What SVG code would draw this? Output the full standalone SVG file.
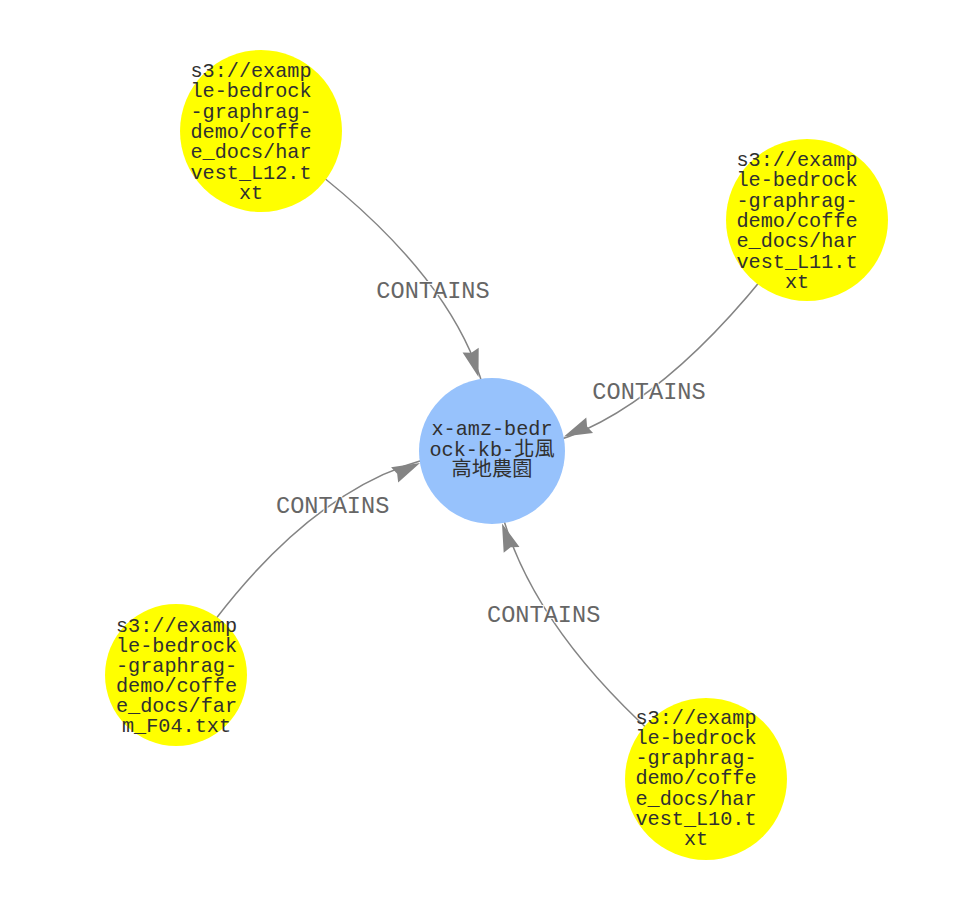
<svg xmlns="http://www.w3.org/2000/svg" xmlns:xlink="http://www.w3.org/1999/xlink" width="960" height="898" viewBox="0 0 960 898">
<style>
.edge{fill:none;stroke:#848484;stroke-width:1.5}
.ah{fill:#848484}
.elabel{font-family:"Liberation Mono","Courier New",monospace;font-size:23.6px;fill:#666;text-anchor:middle;stroke:#fff;stroke-width:2;paint-order:stroke}
.doc{fill:#ffff00}
.kb{fill:#97c2fc}
.ntext{font-family:"Liberation Mono","Noto Sans CJK TC","Noto Sans CJK JP",monospace;font-size:20.2px;fill:#303030;text-anchor:middle}
</style>
<defs>
<path id="ah" d="M0,0 L-28,8.4 L-25.2,0 L-28,-8.4 Z"/>
</defs>
<rect width="960" height="898" fill="#fff"/>
<g id="connectors">
<path class="edge" d="M261,131 Q493.5,291 492,451"/>
<path class="edge" d="M807,220 Q640.5,452.5 492,451"/>
<path class="edge" d="M176,675 Q324,449 492,451"/>
<path class="edge" d="M706,779 Q499,615 492,451"/>
<use href="#ah" class="ah" transform="translate(478.5,377) rotate(73.7)"/>
<use href="#ah" class="ah" transform="translate(564,436.5) rotate(156.4)"/>
<use href="#ah" class="ah" transform="translate(420,463) rotate(-25)"/>
<use href="#ah" class="ah" transform="translate(502,523.5) rotate(-110)"/>
<text class="elabel" x="433" y="297.5">CONTAINS</text>
<text class="elabel" x="649" y="399.3">CONTAINS</text>
<text class="elabel" x="332.7" y="512.5">CONTAINS</text>
<text class="elabel" x="543.7" y="621.5">CONTAINS</text>
</g>
<g id="node-kb">
<circle class="kb" cx="492" cy="451" r="73"/>
<text class="ntext"><tspan x="492" y="435">x-amz-bedr</tspan><tspan x="492" y="455.5">ock-kb-北風</tspan><tspan x="492" y="476">高地農園</tspan></text>
</g>
<g id="node-L12">
<circle class="doc" cx="261" cy="131" r="81"/>
<text class="ntext"><tspan x="251" y="77">s3://examp</tspan><tspan x="251" y="97.3">le-bedrock</tspan><tspan x="251" y="117.6">-graphrag-</tspan><tspan x="251" y="137.9">demo/coffe</tspan><tspan x="251" y="158.2">e_docs/har</tspan><tspan x="251" y="178.5">vest_L12.t</tspan><tspan x="251" y="198.8">xt</tspan></text>
</g>
<g id="node-L11">
<circle class="doc" cx="807" cy="220" r="81"/>
<text class="ntext"><tspan x="797" y="166">s3://examp</tspan><tspan x="797" y="186.3">le-bedrock</tspan><tspan x="797" y="206.6">-graphrag-</tspan><tspan x="797" y="226.9">demo/coffe</tspan><tspan x="797" y="247.2">e_docs/har</tspan><tspan x="797" y="267.5">vest_L11.t</tspan><tspan x="797" y="287.8">xt</tspan></text>
</g>
<g id="node-F04">
<circle class="doc" cx="176" cy="675" r="71"/>
<text class="ntext"><tspan x="176.5" y="631.7">s3://examp</tspan><tspan x="176.5" y="651.7">le-bedrock</tspan><tspan x="176.5" y="671.7">-graphrag-</tspan><tspan x="176.5" y="691.7">demo/coffe</tspan><tspan x="176.5" y="711.7">e_docs/far</tspan><tspan x="176.5" y="731.7">m_F04.txt</tspan></text>
</g>
<g id="node-L10">
<circle class="doc" cx="706" cy="779" r="81"/>
<text class="ntext"><tspan x="696" y="723.5">s3://examp</tspan><tspan x="696" y="743.8">le-bedrock</tspan><tspan x="696" y="764.1">-graphrag-</tspan><tspan x="696" y="784.4">demo/coffe</tspan><tspan x="696" y="804.7">e_docs/har</tspan><tspan x="696" y="825">vest_L10.t</tspan><tspan x="696" y="845.3">xt</tspan></text>
</g>
</svg>
